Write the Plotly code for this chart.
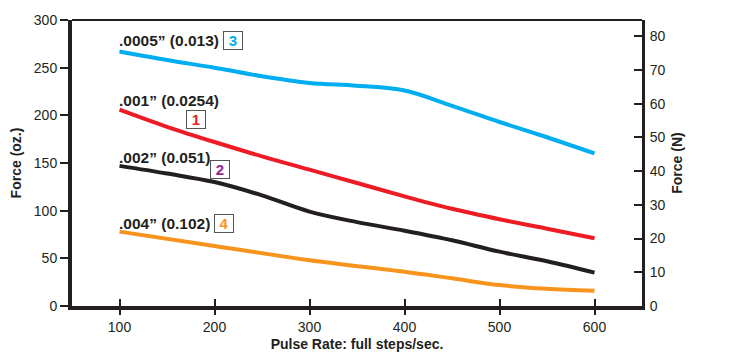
import plotly.graph_objects as go

# Data (Force in oz. vs pulse rate)
x_blue = [100, 150, 200, 250, 300, 350, 400, 450, 500, 550, 600]
y_blue = [267, 258, 250, 241, 234, 231, 226, 210, 193, 177, 160]
x_red = [100, 150, 200, 250, 300, 350, 400, 450, 500, 550, 600]
y_red = [206, 188, 172, 157, 143, 129, 115, 102, 91, 81, 71]
x_black = [100, 150, 200, 250, 300, 350, 400, 450, 500, 550, 600]
y_black = [147, 139, 130, 116, 99, 88, 79, 69, 57, 47, 35]
x_orange = [100, 200, 300, 400, 450, 500, 550, 600]
y_orange = [78, 63, 48, 36, 29, 22, 18, 16]

series_labels = ['.0005\u201d (0.013)', '.001\u201d (0.0254)', '.002\u201d (0.051)', '.004\u201d (0.102)']
box_labels = ['3', '1', '2', '4']
x_ticks = [100, 200, 300, 400, 500, 600]
y_ticks_oz = [0, 50, 100, 150, 200, 250, 300]
y_ticks_n = [0, 10, 20, 30, 40, 50, 60, 70, 80]
N_AXIS_MAX = 84.8  # right axis top as drawn in the reference

BLUE = '#00aeef'
RED = '#ed1c24'
BLACK = '#231f20'
ORANGE = '#f7941d'
PURPLE = '#92278f'
FONT = 'Liberation Sans, Arial, sans-serif'

fig = go.Figure()
for xs, ys, c in [(x_blue, y_blue, BLUE), (x_red, y_red, RED),
                  (x_black, y_black, BLACK), (x_orange, y_orange, ORANGE)]:
    fig.add_trace(go.Scatter(x=xs, y=ys, mode='lines',
                             line=dict(color=c, width=4, shape='spline', smoothing=1),
                             hoverinfo='skip', showlegend=False))

# label positions (data coords)
label_pos = [(97, 279), (97, 216), (97, 156), (97, 87)]
box_pos = [(219, 279), (180, 196), (206, 143), (210, 87)]
box_colors = [BLUE, RED, PURPLE, ORANGE]
anns = []
for (lx, ly), t in zip(label_pos, series_labels):
    anns.append(dict(x=lx, y=ly, xref='x', yref='y', text='<b>' + t + '</b>',
                     showarrow=False, xanchor='left', yanchor='middle',
                     font=dict(family=FONT, size=15.5, color=BLACK)))
for (bx, by), t, c in zip(box_pos, box_labels, box_colors):
    anns.append(dict(x=bx, y=by, xref='x', yref='y', text='<b>' + t + '</b>',
                     showarrow=False, xanchor='center', yanchor='middle',
                     font=dict(family=FONT, size=15, color=c),
                     bordercolor='#555555', borderwidth=1, borderpad=1,
                     bgcolor='white', width=16, height=15))

fig.update_layout(
    width=729, height=360,
    margin=dict(l=72, r=87, t=20, b=54),
    paper_bgcolor='white', plot_bgcolor='white',
    font=dict(family=FONT, size=14, color=BLACK),
    annotations=anns,
    xaxis=dict(range=[50, 650], tickvals=x_ticks, showgrid=False, zeroline=False,
               showline=True, linecolor=BLACK, linewidth=4, automargin=False,
               ticks='outside', ticklen=5, tickwidth=2, tickcolor=BLACK,
               tickfont=dict(size=14),
               title=dict(text='<b>Pulse Rate: full steps/sec.</b>', font=dict(size=14), standoff=6)),
    xaxis2=dict(range=[50, 650], tickvals=x_ticks, overlaying='x', matches='x',
                side='bottom', showgrid=False, zeroline=False, showline=False,
                ticks='inside', ticklen=7, tickwidth=2, tickcolor=BLACK,
                showticklabels=False, automargin=False),
    yaxis=dict(range=[0, 300], tickvals=y_ticks_oz, showgrid=False, zeroline=False,
               showline=True, linecolor=BLACK, linewidth=4, automargin=False,
               ticks='outside', ticklen=8, tickwidth=2, tickcolor=BLACK,
               tickfont=dict(size=14),
               title=dict(text='<b>Force (oz.)</b>', font=dict(size=14), standoff=10)),
    yaxis2=dict(range=[0, N_AXIS_MAX], tickvals=y_ticks_n, overlaying='y',
                side='right', showgrid=False, zeroline=False, automargin=False,
                showline=True, linecolor=BLACK, linewidth=3,
                ticks='inside', ticklen=8, tickwidth=2, tickcolor=BLACK,
                tickfont=dict(size=14), ticklabelstandoff=2,
                title=dict(text='<b>Force (N)</b>', font=dict(size=14), standoff=8)),
    shapes=[dict(type='line', xref='paper', yref='paper', x0=0, x1=1, y0=1, y1=1,
                 line=dict(color=BLACK, width=2))],
)

# invisible helper traces so that the secondary axes render
fig.add_trace(go.Scatter(x=[None], y=[None], xaxis='x2', yaxis='y', showlegend=False, hoverinfo='skip'))
fig.add_trace(go.Scatter(x=[None], y=[None], xaxis='x', yaxis='y2', showlegend=False, hoverinfo='skip'))

fig.write_html('out.html', config={'displayModeBar': False},
               post_script="document.body.style.margin='0';")
